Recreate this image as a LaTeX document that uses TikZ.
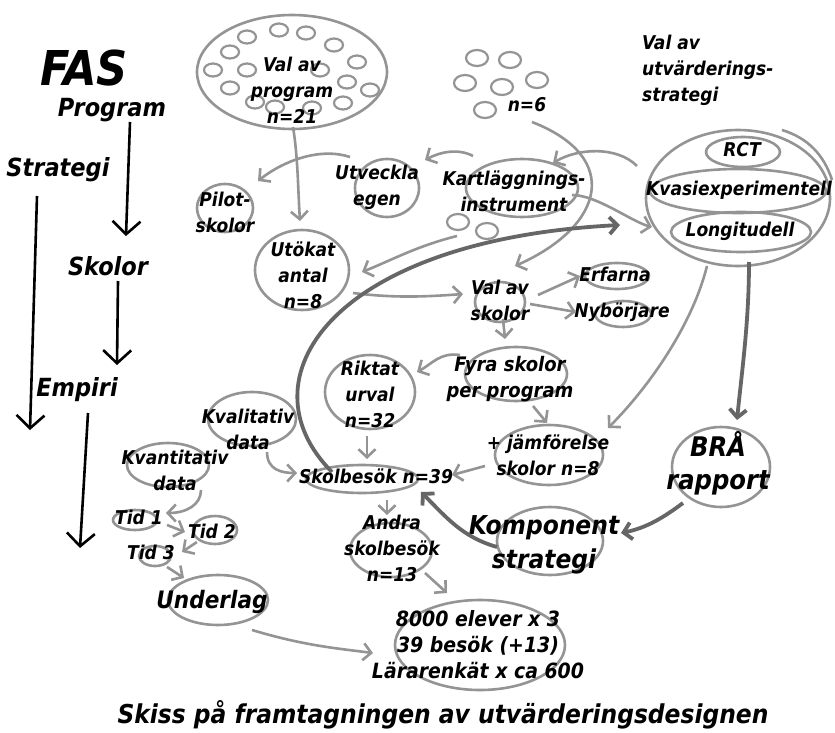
\documentclass[tikz,border=0pt]{standalone}
\usepackage{fontspec}
\setmainfont{DejaVu Sans}
\newfontfamily\handfont{DejaVu Sans Condensed}
\usetikzlibrary{arrows.meta,calc}
\newcommand\hand[2]{\fontsize{#1}{#2}\handfont\bfseries\itshape}
\tikzset{
  ring/.style = {black!42, line width=2.6pt},
  blob/.style = {black!42, line width=2.2pt},
  lbl/.style  = {font=\hand{19}{26}, align=center, inner sep=1pt},
  big/.style  = {font=\hand{25}{30}, inner sep=1pt},
  arr/.style  = {-{Straight Barb[length=8pt,width=17pt]}, black!42, line width=2.6pt},
  thk/.style  = {arr, black!60, line width=3.8pt},
  blk/.style  = {-{Straight Barb[length=13pt,width=28pt]}, black, line width=2.6pt},
}

\begin{document}
\begin{tikzpicture}[x=1pt,y=-1pt]
  \fill[white] (0,0) rectangle (835,733);
  \useasboundingbox (0,0) rectangle (835,733);

  % rings
  \draw[ring] (292,72) ellipse (95 and 57);
  \foreach \p in {(247,37),(279,30),(306,33),(334,45),(230,52),(357,62),(213,70),(247,70),
                  (347,82),(370,90),(230,88),(255,102),(275,107),(312,108),(343,103),(320,70)}
    \draw[blob] \p ellipse (9 and 6.5);
  \foreach \p in {(477,58),(510,60),(465,83),(502,87),(537,80),(485,110),(458,222),(487,231)}
    \draw[blob] \p ellipse (11 and 8);
  \draw[ring] (738,198) ellipse (92 and 68);
  \draw[ring] (782,130) .. controls (808,138) and (824,155) .. (832,180);
  \draw[ring] (743,152) ellipse (37 and 15);
  \draw[ring] (738,191) ellipse (88 and 22);
  \draw[ring] (741,232) ellipse (70 and 20);
  \draw[ring] (522,188) ellipse (56 and 29);
  \draw[ring] (387,188) ellipse (32 and 29);
  \draw[ring] (225,208) ellipse (28 and 24);
  \draw[ring] (302,270) ellipse (47 and 40);
  \draw[ring] (500,302) ellipse (25 and 20);
  \draw[ring] (617,276) ellipse (32 and 13);
  \draw[ring] (623,314) ellipse (28 and 13);
  \draw[ring] (516,374) ellipse (51 and 27);
  \draw[ring] (370,392) ellipse (45 and 37);
  \draw[ring] (549,455) ellipse (54 and 30);
  \draw[ring] (252,419) ellipse (44 and 27);
  \draw[ring] (168,465) ellipse (41 and 22);
  \draw[ring] (362,479) ellipse (56 and 14);
  \draw[ring] (135,520) ellipse (22 and 10);
  \draw[ring] (215,530) ellipse (22 and 14);
  \draw[ring] (155,556) ellipse (16 and 10);
  \draw[ring] (218,600) ellipse (50 and 25);
  \draw[ring] (391,550) ellipse (41 and 27);
  \draw[ring] (480,645) ellipse (85 and 45);
  \draw[ring] (721,467) ellipse (49 and 40);
  \draw[ring] (550,541) ellipse (53 and 34);

  % phases
  \node[font=\hand{48}{54}] (fas) at (84,68) {FAS};
  \node[big] (prog)  at (112,110) {Program};
  \node[big] (strat) at (58,170) {Strategi};
  \node[big] (skol)  at (108,266) {Skolor};
  \node[big] (emp)   at (77,390) {Empiri};
  \coordinate (sEnd) at (30,430);
  \coordinate (eEnd) at (80,548);

  % labels
  \node[lbl] (valprog) at (292,90) {Val av\\program\\n=21};
  \node[lbl] (n6)      at (527,105) {n=6};
  \node[lbl, align=left, anchor=north west] (valutv) at (641,34) {Val av\\utvärderings-\\strategi};
  \node[lbl] (rct)   at (742,150) {RCT};
  \node[lbl] (kvasi) at (739,190) {Kvasiexperimentell};
  \node[lbl] (longi) at (740,231) {Longitudell};
  \node[lbl] (kart)  at (514,191) {Kartläggnings-\\instrument};
  \node[lbl] (utv)   at (377,187) {Utveckla\\egen};
  \node[lbl] (pilot) at (225,212) {Pilot-\\skolor};
  \node[lbl] (utok)  at (303,275) {Utökat\\antal\\n=8};
  \node[lbl] (valsk) at (500,300) {Val av\\skolor};
  \node[lbl] (erf)   at (615,274) {Erfarna};
  \node[lbl] (nyb)   at (622,312) {Nybörjare};
  \node[lbl, font=\hand{20}{26}] (fyra)  at (510,379) {Fyra skolor\\per program};
  \node[lbl] (rikt)  at (370,394) {Riktat\\urval\\n=32};
  \node[lbl] (jamf)  at (548,455) {+ jämförelse\\skolor n=8};
  \node[lbl] (kval)  at (248,429) {Kvalitativ\\data};
  \node[lbl] (kvant) at (175,470) {Kvantitativ\\data};
  \node[lbl] (besok) at (376,476) {Skolbesök n=39};
  \node[lbl] (tid1)  at (139,517) {Tid 1};
  \node[lbl] (tid2)  at (212,531) {Tid 2};
  \node[lbl] (tid3)  at (151,552) {Tid 3};
  \node[font=\hand{24}{28}] (under) at (212,602) {Underlag};
  \node[lbl] (andra) at (392,548) {Andra\\skolbesök\\n=13};
  \node[lbl, font=\hand{21}{26}] (elev) at (478,645) {8000 elever x 3\\39 besök (+13)\\Lärarenkät x ca 600};
  \node[font=\hand{27}{33}, align=center] (bra)  at (718,463) {BRÅ\\rapport};
  \node[font=\hand{26}{34}, align=center] (komp) at (544,545) {Komponent\\strategi};
  \node[font=\hand{26}{30}] (title) at (443,715) {Skiss på framtagningen av utvärderingsdesignen};

  % phase arrows
  \draw[blk] ($(prog)+(18,12)$) -- ($(skol)+(18,-30)$);
  \draw[blk] ($(skol)+(10,15)$) -- ($(emp)+(40,-25)$);
  \draw[blk] ($(strat)+(-21,26)$) -- (sEnd);
  \draw[blk] ($(emp)+(11,23)$) -- (eEnd);

  % flow
  \draw[arr] ($(valprog)+(1,37)$) .. controls +(5,30) and +(-2,-30) .. ($(utok)+(-3,-54)$);
  \draw[arr] ($(utv)+(-27,-30)$) .. controls +(-30,-10) and +(25,-20) .. ($(pilot)+(33,-31)$);
  \draw[arr] ($(kart)+(-41,-35)$) .. controls +(-15,-8) and +(15,-8) .. ($(utv)+(48,-27)$);
  \draw[arr] ($(n6)+(5,17)$) .. controls +(90,35) and +(90,-40) .. ($(valsk)+(15,-34)$);
  \draw[arr] ($(kvasi)+(-102,-24)$) .. controls +(-20,-20) and +(25,-15) .. ($(kart)+(39,-28)$);
  \draw[arr] ($(kart)+(58,4)$) .. controls +(25,0) and +(-20,-5) .. ($(longi)+(-88,-4)$);
  \draw[arr] ($(kart)+(-57,45)$) .. controls +(-40,10) and +(30,-12) .. ($(utok)+(59,-3)$);
  \draw[arr] ($(utok)+(50,18)$) .. controls +(40,5) and +(-40,3) .. ($(valsk)+(-37,-6)$);
  \draw[arr] ($(valsk)+(38,-5)$) -- ($(erf)+(-35,2)$);
  \draw[arr] ($(valsk)+(30,4)$) -- ($(nyb)+(-46,0)$);
  \draw[arr] ($(valsk)+(3,19)$) -- ($(fyra)+(-5,-40)$);
  \draw[arr] ($(fyra)+(-50,-24)$) .. controls +(-20,-3) and +(15,-8) .. ($(rikt)+(47,-22)$);
  \draw[arr] ($(fyra)+(23,27)$) -- ($(jamf)+(-1,-32)$);
  \draw[arr] ($(rikt)+(-3,42)$) -- ($(besok)+(-9,-17)$);
  \draw[arr] ($(jamf)+(-63,11)$) -- ($(besok)+(76,-1)$);
  \draw[arr] ($(kval)+(19,23)$) .. controls +(0,18) and +(-15,0) .. ($(besok)+(-79,-3)$);
  \draw[arr] ($(longi)+(-33,35)$) .. controls +(-15,60) and +(40,-40) .. ($(jamf)+(60,-27)$);
  \draw[arr] ($(besok)+(11,24)$) -- ($(andra)+(-5,-33)$);
  \draw[arr] ($(andra)+(33,25)$) -- ($(elev)+(-31,-52)$);
  \draw[arr] ($(kvant)+(26,20)$) .. controls +(0,15) and +(20,0) .. ($(tid1)+(27,-4)$);
  \draw[arr] ($(tid1)+(28,8)$) -- ($(tid2)+(-27,1)$);
  \draw[arr] ($(tid2)+(-15,11)$) -- ($(tid3)+(31,0)$);
  \draw[arr] ($(tid3)+(16,15)$) -- ($(under)+(-28,-24)$);
  \draw[arr] ($(under)+(40,28)$) .. controls +(50,15) and +(-40,-5) .. ($(elev)+(-105,8)$);
  % heavy strokes
  \draw[thk] ($(besok)+(-44,-4)$) .. controls +(-92,-92) and +(-290,15) .. ($(kart)+(106,34)$);
  \draw[thk] ($(longi)+(9,31)$) .. controls +(0,60) and +(5,-50) .. ($(bra)+(19,-43)$);
  \draw[thk] ($(bra)+(-35,40)$) .. controls +(-20,15) and +(25,-5) .. ($(komp)+(77,-12)$);
  \draw[thk] ($(komp)+(-47,2)$) .. controls +(-35,-10) and +(25,25) .. ($(besok)+(45,16)$);
\end{tikzpicture}
\end{document}
